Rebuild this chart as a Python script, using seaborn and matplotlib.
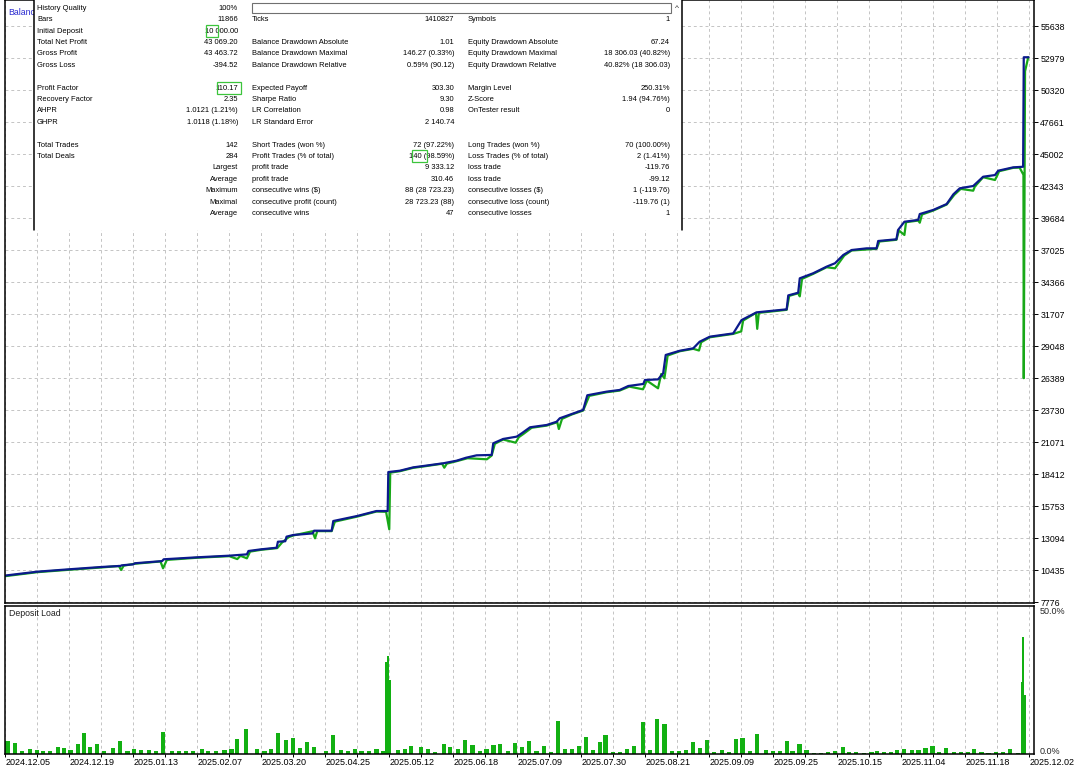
import matplotlib
matplotlib.use("Agg")
import matplotlib.pyplot as plt
from matplotlib.patches import Rectangle
from matplotlib.lines import Line2D
import pandas as pd
import seaborn as sns

# ---- data ----------------------------------------------------------------
# x is measured in grid cells of the report (one cell = one vertical grid line)
y_ticks = [7776, 10435, 13094, 15753, 18412, 21071, 23730, 26389, 29048, 31707,
           34366, 37025, 39684, 42343, 45002, 47661, 50320, 52979, 55638]

date_labels = ["2024.12.05", "2024.12.19", "2025.01.13", "2025.02.07", "2025.03.20",
               "2025.04.25", "2025.05.12", "2025.06.18", "2025.07.09", "2025.07.30",
               "2025.08.21", "2025.09.09", "2025.09.25", "2025.10.15", "2025.11.04",
               "2025.11.18", "2025.12.02"]

balance_x = [0, 1.0, 2.0, 3.0, 3.6, 3.64, 4.0, 4.05, 4.9, 4.95, 6.0, 7.0, 7.55, 7.6, 8.0,
             8.48, 8.52, 8.75, 8.79, 9.0, 9.6, 9.65, 10.2, 10.25, 11.0, 11.6, 11.95, 11.97,
             12.33, 12.75, 13.06, 13.69, 14.1, 14.4, 14.73, 15.2, 15.25, 15.56, 15.98, 16.14,
             16.4, 16.92, 17.23, 17.33, 17.7, 18.06, 18.19, 18.79, 19.2, 19.47, 19.94, 19.99,
             20.4, 20.56, 20.64, 21.08, 21.5, 21.7, 22.02, 22.75, 23.01, 23.48, 24.42, 24.47,
             24.78, 24.83, 25.25, 25.67, 25.93, 26.19, 26.45, 26.92, 27.23, 27.28, 27.85, 27.9,
             28.1, 28.53, 28.58, 29.0, 29.42, 29.63, 29.83, 30.25, 30.56, 30.93, 31.03, 31.5,
             31.81, 31.83, 31.98]
balance_v = [10000, 10320, 10520, 10710, 10800, 10850, 10930, 11020, 11200, 11350, 11515,
             11650, 11760, 12040, 12180, 12310, 12810, 12850, 13230, 13370, 13500, 13725,
             13725, 14530, 14950, 15360, 15360, 18600, 18710, 18990, 19100, 19330, 19540,
             19790, 19990, 20020, 20990, 21350, 21540, 21820, 22320, 22510, 22780, 23070,
             23420, 23760, 24980, 25280, 25420, 25750, 25920, 26250, 26300, 26800, 28330,
             28680, 28880, 29430, 29850, 30120, 31230, 31870, 32120, 33280, 33500, 34700,
             35120, 35670, 35950, 36640, 37050, 37190, 37190, 37800, 37940, 38710, 39400,
             39550, 40040, 40380, 40870, 41680, 42180, 42370, 43140, 43280, 43640, 43920,
             43970, 53069, 53069]

equity_x = [0, 1.0, 2.0, 3.0, 3.55, 3.62, 3.7, 4.05, 4.85, 4.93, 5.05, 6.0, 7.0, 7.25, 7.35,
            7.55, 7.65, 8.0, 8.5, 8.65, 8.85, 9.0, 9.6, 9.68, 9.75, 10.2, 10.3, 11.0, 11.6,
            11.9, 12.0, 12.03, 12.33, 12.75, 13.06, 13.65, 13.72, 13.8, 14.1, 14.45, 15.05,
            15.2, 15.3, 15.56, 15.95, 16.05, 16.2, 16.45, 16.92, 17.25, 17.3, 17.4, 17.7,
            18.06, 18.25, 18.79, 19.2, 19.5, 19.93, 20.05, 20.4, 20.5, 20.6, 20.7, 21.08,
            21.5, 21.68, 21.75, 22.02, 22.75, 23.0, 23.06, 23.46, 23.5, 23.55, 24.42, 24.5,
            24.78, 24.83, 24.9, 25.25, 25.67, 25.93, 26.22, 26.45, 27.23, 27.32, 27.85, 27.93,
            28.1, 28.15, 28.53, 28.58, 28.65, 29.0, 29.42, 29.66, 29.86, 30.25, 30.3, 30.56,
            30.93, 31.0, 31.06, 31.5, 31.7, 31.82, 31.83, 31.85, 31.87, 31.97]
equity_v = [9950, 10280, 10480, 10670, 10790, 10460, 10820, 10980, 11170, 10600, 11300,
            11480, 11610, 11370, 11640, 11430, 11990, 12140, 12280, 12750, 13180, 13330,
            13680, 13094, 13690, 13690, 14480, 14900, 15320, 15300, 13842, 18550, 18670,
            18950, 19060, 19290, 18960, 19300, 19500, 19750, 19660, 19970, 20950, 21300,
            21040, 21500, 21780, 22280, 22460, 22740, 22177, 23020, 23380, 23710, 24930,
            25230, 25370, 25700, 25476, 26200, 25560, 26750, 26390, 28280, 28640, 28840,
            28700, 29390, 29800, 30080, 30290, 31190, 31830, 30500, 31830, 32080, 33240,
            33460, 33200, 34650, 35070, 35620, 35530, 36590, 37010, 37150, 37760, 37900,
            38670, 38300, 39360, 39500, 39320, 40000, 40330, 40830, 41640, 42130, 41980,
            42320, 43100, 42870, 43240, 43600, 43880, 43900, 43300, 26400, 39500, 51900,
            53069]

# deposit load, % (regular daily bars)
load_x = [0.07, 0.30, 0.53, 0.76, 0.98, 1.19, 1.41, 1.64, 1.83, 2.04, 2.26, 2.45, 2.65,
          2.87, 3.08, 3.36, 3.58, 3.82, 4.03, 4.25, 4.48, 4.70, 4.92, 5.22, 5.43, 5.65,
          5.86, 6.15, 6.34, 6.58, 6.85, 7.07, 7.25, 7.53, 7.86, 8.10, 8.31, 8.53, 8.77,
          8.98, 9.20, 9.43, 9.64, 10.03, 10.25, 10.49, 10.70, 10.92, 11.13, 11.37, 11.60,
          11.81, 12.27, 12.48, 12.69, 12.98, 13.20, 13.44, 13.71, 13.91, 14.15, 14.36,
          14.60, 14.83, 15.04, 15.26, 15.47, 15.71, 15.93, 16.15, 16.38, 16.60, 16.83,
          17.05, 17.27, 17.49, 17.71, 17.93, 18.15, 18.37, 18.58, 18.76, 18.98, 19.22,
          19.44, 19.66, 19.93, 20.15, 20.38, 20.60, 20.83, 21.05, 21.27, 21.50, 21.72,
          21.93, 22.15, 22.39, 22.61, 22.83, 23.04, 23.27, 23.50, 23.78, 24.00, 24.22,
          24.42, 24.60, 24.82, 25.04, 25.28, 25.50, 25.72, 25.94, 26.17, 26.37, 26.59,
          26.85, 27.07, 27.25, 27.47, 27.69, 27.88, 28.10, 28.33, 28.54, 28.76, 28.98,
          29.18, 29.40, 29.64, 29.86, 30.08, 30.27, 30.51, 30.73, 30.95, 31.19, 31.39,
          31.66]
load_v = [4.2, 3.5, 0.8, 1.5, 1.1, 0.8, 0.8, 2.3, 1.8, 1.1, 3.2, 6.9, 2.1, 3.2, 0.8, 1.8,
          4.2, 0.8, 1.4, 1.1, 1.1, 0.8, 7.1, 0.8, 0.8, 0.8, 0.8, 1.5, 0.8, 0.8, 1.1, 1.5,
          4.9, 8.3, 1.5, 0.8, 1.5, 6.9, 4.6, 5.2, 1.8, 3.8, 2.1, 0.8, 6.4, 1.1, 0.8, 1.5,
          0.8, 0.8, 1.5, 0.8, 1.1, 1.5, 2.5, 2.1, 1.5, 0.6, 3.2, 2.1, 1.5, 4.5, 2.8, 0.8,
          1.5, 2.8, 3.2, 0.8, 3.5, 2.1, 4.2, 1.0, 2.6, 0.6, 11.0, 1.6, 1.6, 2.6, 5.7, 1.25,
          4.0, 6.4, 0.6, 0.6, 1.6, 2.6, 10.8, 1.25, 11.5, 10.1, 0.9, 0.9, 1.25, 4.0, 1.9,
          4.7, 0.6, 1.25, 0.6, 5.0, 5.3, 0.9, 6.6, 1.25, 0.9, 0.9, 4.3, 0.9, 3.3, 1.25,
          0.25, 0.25, 0.6, 0.9, 2.3, 0.6, 0.6, 0.25, 0.6, 0.9, 0.6, 0.6, 1.25, 1.6, 1.25,
          1.25, 1.9, 2.6, 0.6, 1.9, 0.6, 0.6, 0.6, 1.6, 0.6, 0.25, 0.6, 0.6, 1.6, 0.25]
# short intraday spikes
spike_x = [11.90, 11.96, 12.03, 31.78, 31.82, 31.87]
spike_v = [31.0, 33.0, 24.9, 24.1, 39.4, 19.9]

stats_rows = [
    ["History Quality", "100%", "", "", "", ""],
    ["Bars", "11866", "Ticks", "1410827", "Symbols", "1"],
    ["Initial Deposit", "10 000.00", "", "", "", ""],
    ["Total Net Profit", "43 069.20", "Balance Drawdown Absolute", "1.01",
     "Equity Drawdown Absolute", "67.24"],
    ["Gross Profit", "43 463.72", "Balance Drawdown Maximal", "146.27 (0.33%)",
     "Equity Drawdown Maximal", "18 306.03 (40.82%)"],
    ["Gross Loss", "-394.52", "Balance Drawdown Relative", "0.59% (90.12)",
     "Equity Drawdown Relative", "40.82% (18 306.03)"],
    ["", "", "", "", "", ""],
    ["Profit Factor", "110.17", "Expected Payoff", "303.30", "Margin Level", "250.31%"],
    ["Recovery Factor", "2.35", "Sharpe Ratio", "9.30", "Z-Score", "1.94 (94.76%)"],
    ["AHPR", "1.0121 (1.21%)", "LR Correlation", "0.98", "OnTester result", "0"],
    ["GHPR", "1.0118 (1.18%)", "LR Standard Error", "2 140.74", "", ""],
    ["", "", "", "", "", ""],
    ["Total Trades", "142", "Short Trades (won %)", "72 (97.22%)",
     "Long Trades (won %)", "70 (100.00%)"],
    ["Total Deals", "284", "Profit Trades (% of total)", "140 (98.59%)",
     "Loss Trades (% of total)", "2 (1.41%)"],
    ["", "Largest", "profit trade", "9 333.12", "loss trade", "-119.76"],
    ["", "Average", "profit trade", "310.46", "loss trade", "-99.12"],
    ["", "Maximum", "consecutive wins ($)", "88 (28 723.23)",
     "consecutive losses ($)", "1 (-119.76)"],
    ["", "Maximal", "consecutive profit (count)", "28 723.23 (88)",
     "consecutive loss (count)", "-119.76 (1)"],
    ["", "Average", "consecutive wins", "47", "consecutive losses", "1"],
]

# ---- figure --------------------------------------------------------------
W, H = 1079, 769
sns.set_theme(style="white")
plt.rcParams['font.family'] = ['Liberation Sans', 'DejaVu Sans']

BAL_COLOR = "#0b1a8c"
EQ_COLOR = "#18a818"
LOAD_COLOR = "#12b012"
GRID = dict(color="#c4c4c4", linestyle=(0, (3, 3)), linewidth=0.7)


def px_box(x0, y0, x1, y1):
    # pixel box (top-left origin) -> figure fraction rect
    return [x0 / W, 1 - y1 / H, (x1 - x0) / W, (y1 - y0) / H]


fig = plt.figure(figsize=(W / 100, H / 100), dpi=100)
fig.patch.set_facecolor("white")

ax = fig.add_axes(px_box(4.5, 0, 1034, 603))
ax2 = fig.add_axes(px_box(4.5, 605.5, 1034, 753.5))

bal = pd.DataFrame({"x": balance_x, "v": balance_v})
eq = pd.DataFrame({"x": equity_x, "v": equity_v})
sns.lineplot(data=eq, x="x", y="v", ax=ax, color=EQ_COLOR, linewidth=1.6,
             sort=False, estimator=None)
sns.lineplot(data=bal, x="x", y="v", ax=ax, color=BAL_COLOR, linewidth=1.6,
             sort=False, estimator=None)

xmin, xmax = -0.025, 32.15
ax.set_xlim(xmin, xmax)
ax.set_ylim(7718, 57827)
ax.set_xlabel("")
ax.set_ylabel("")
ax.set_xticks(range(33))
ax.tick_params(axis="x", length=0, labelbottom=False)
ax.yaxis.tick_right()
ax.set_yticks(y_ticks)
ax.set_yticklabels([str(t) for t in y_ticks])
ax.tick_params(axis="y", right=True, direction="out", length=3, width=0.7,
               colors="black", labelsize=6.3, pad=1.5)
ax.grid(True, **GRID)
for s in ax.spines.values():
    s.set_color("black")
    s.set_linewidth(1.1)

# chart caption, mostly hidden behind the statistics box as in the report
fig.text(8 / W, 1 - 12.7 / H, "Balance", color="#2a2ad0", fontsize=6.3,
         va="center", ha="left", zorder=4)

# deposit load panel
ax2.bar(load_x, load_v, width=0.13, color=LOAD_COLOR, linewidth=0, align="center")
ax2.bar(spike_x, spike_v, width=0.065, color=LOAD_COLOR, linewidth=0, align="center")
ax2.set_xlim(xmin, xmax)
ax2.set_ylim(0, 50)
ax2.set_yticks([])
ax2.set_xticks(range(33))
ax2.set_xticklabels([date_labels[i // 2] if i % 2 == 0 else "" for i in range(33)],
                    ha="left")
ax2.tick_params(axis="x", bottom=True, direction="out", length=2.5, width=0.7,
                colors="black", labelsize=6.5, pad=1)
ax2.grid(True, axis="x", **GRID)
for s in ax2.spines.values():
    s.set_color("black")
    s.set_linewidth(1.1)
ax2.text(0.004, 0.945, "Deposit Load", transform=ax2.transAxes, fontsize=6.3,
         va="center", ha="left", color="#202020")
fig.text(1040 / W, 1 - 611 / H, "50.0%", fontsize=6.5, va="center", ha="left")
fig.text(1040 / W, 1 - 751 / H, "0.0%", fontsize=6.5, va="center", ha="left")

# ---- statistics overlay --------------------------------------------------
fig.add_artist(Rectangle((34 / W, 1 - 230 / H), (682 - 34) / W, 230 / H,
                         transform=fig.transFigure, facecolor="white",
                         edgecolor="none", zorder=5))
for xv in (34, 682):
    fig.add_artist(Line2D([xv / W, xv / W], [1, 1 - 230 / H], transform=fig.transFigure,
                          color="black", linewidth=1.1, zorder=6))
fig.add_artist(Rectangle((252 / W, 1 - 12.5 / H), (671 - 252) / W, 9 / H,
                         transform=fig.transFigure, facecolor="white",
                         edgecolor="#707070", linewidth=0.8, zorder=6))
fig.text(677 / W, 1 - 8 / H, "^", fontsize=6, ha="center", va="center", zorder=7)

col_x = [37, 238, 252, 454, 468, 670]
col_ha = ["left", "right", "left", "right", "left", "right"]
for r, row in enumerate(stats_rows):
    y = 8.3 + r * 11.4
    for c, txt in enumerate(row):
        if txt:
            fig.text(col_x[c] / W, 1 - y / H, txt, fontsize=5.4, ha=col_ha[c],
                     va="center", color="black", zorder=7)

for (x0, y0, x1, y1) in [(206, 25, 217.5, 36.5), (216.5, 82, 240.5, 93.5),
                         (411.5, 150.5, 427, 162)]:
    fig.add_artist(Rectangle((x0 / W, 1 - y1 / H), (x1 - x0) / W, (y1 - y0) / H,
                             transform=fig.transFigure, facecolor="none",
                             edgecolor="#3cc43c", linewidth=0.9, zorder=8))

fig.savefig("out.png", dpi=100)
